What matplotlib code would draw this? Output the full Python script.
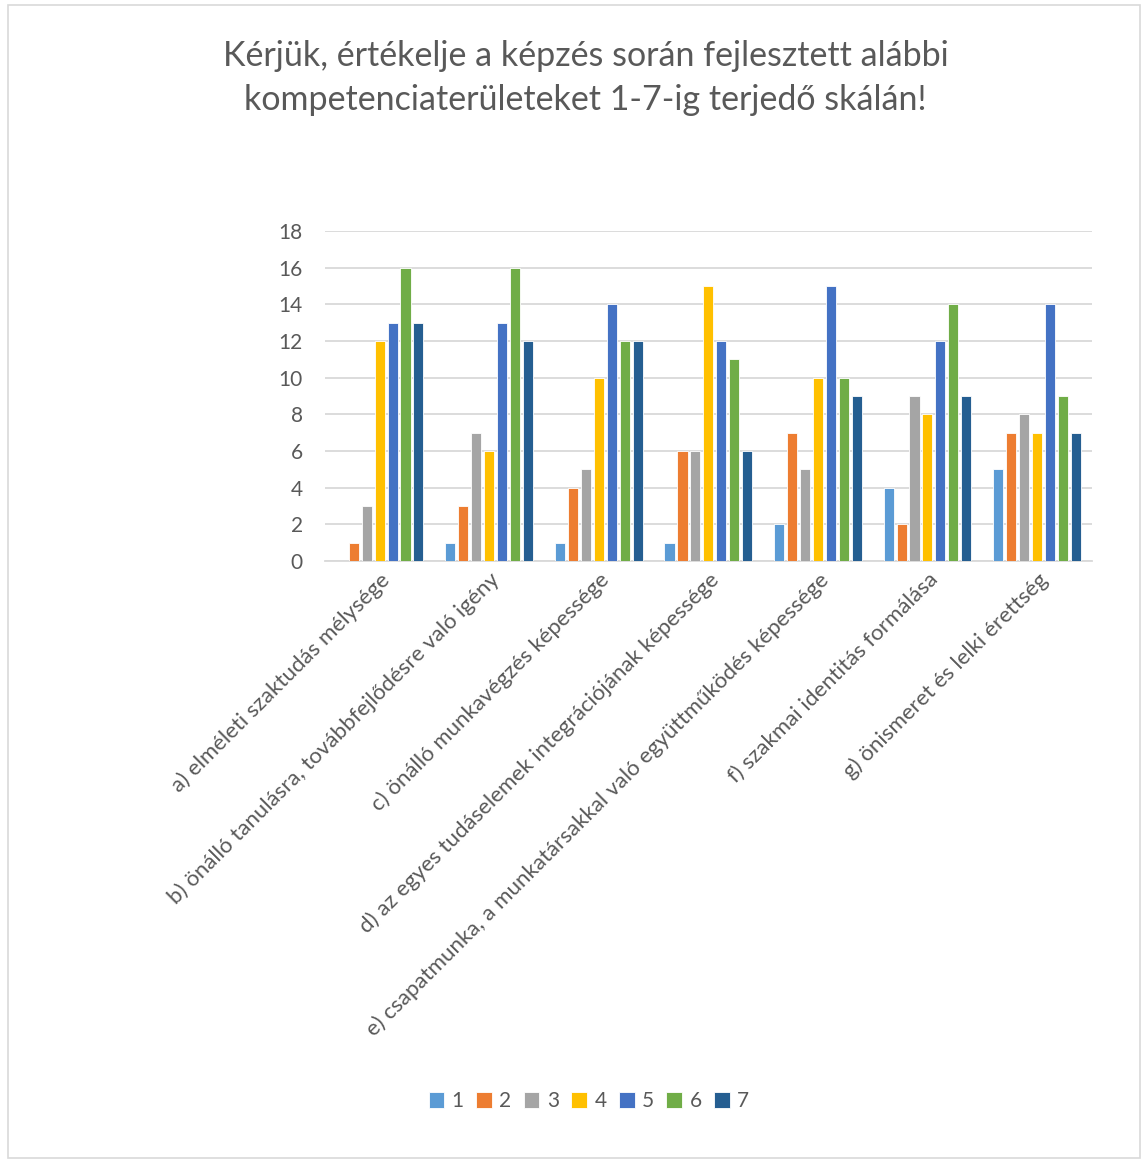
import matplotlib
matplotlib.use("Agg")
import matplotlib.pyplot as plt
import matplotlib.patches as mpatches
import numpy as np

plt.rcParams["font.family"] = ["Lato", "DejaVu Sans"]

# ─── Data ────────────────────────────────────────────────────────────────────
categories = [
    "a) elméleti szaktudás mélysége",
    "b) önálló tanulásra, továbbfejlődésre való igény",
    "c) önálló munkavégzés képessége",
    "d) az egyes tudáselemek integrációjának képessége",
    "e) csapatmunka, a munkatársakkal való együttműködés képessége",
    "f) szakmai identitás formálása",
    "g) önismeret és lelki érettség",
]
series_labels = ["1", "2", "3", "4", "5", "6", "7"]
s1 = [0, 1, 1, 1, 2, 4, 5]
s2 = [1, 3, 4, 6, 7, 2, 7]
s3 = [3, 7, 5, 6, 5, 9, 8]
s4 = [12, 6, 10, 15, 10, 8, 7]
s5 = [13, 13, 14, 12, 15, 12, 14]
s6 = [16, 16, 12, 11, 10, 14, 9]
s7 = [13, 12, 12, 6, 9, 9, 7]
series = [s1, s2, s3, s4, s5, s6, s7]
colors = ["#5B9BD5", "#ED7D31", "#A5A5A5", "#FFC000", "#4472C4", "#70AD47", "#255E91"]

TEXT = "#595959"
GRID = "#D9D9D9"

fig = plt.figure(figsize=(11.48, 11.63), dpi=100)
ax = fig.add_axes([0.283, 0.5176, 0.668, 0.2838])

x = np.arange(len(categories))
step = 0.118
width = 0.092
for i, (vals, col, lab) in enumerate(zip(series, colors, series_labels)):
    ax.bar(x + (i - 3) * step, vals, width=width, color=col, label=lab,
           edgecolor="white", linewidth=0.6, zorder=3)

ax.set_xlim(-0.5, len(categories) - 0.5)
ax.set_ylim(0, 18)
ax.set_yticks(np.arange(0, 19, 2))
ax.yaxis.grid(True, color=GRID, linewidth=1.3, zorder=0)
ax.tick_params(axis="y", length=0, labelsize=15, labelcolor=TEXT, pad=16)
ax.tick_params(axis="x", length=0, pad=6)
for side in ["top", "right", "left"]:
    ax.spines[side].set_visible(False)
ax.spines["bottom"].set_color(GRID)
ax.spines["bottom"].set_linewidth(1.3)

ax.set_xticks(x)
ax.set_xticklabels(categories, rotation=45, ha="right", rotation_mode="anchor",
                   fontsize=16, color=TEXT)

fig.text(0.51, 0.933, "Kérjük, értékelje a képzés során fejlesztett alábbi\n"
         "kompetenciaterületeket 1-7-ig terjedő skálán!",
         ha="center", va="center", fontsize=24.5, color=TEXT, linespacing=1.47)

leg = fig.legend(loc="center", bbox_to_anchor=(0.513, 0.053), ncol=7, frameon=False,
                 fontsize=15, handlelength=0.75, handleheight=0.75,
                 handletextpad=0.35, columnspacing=0.6)
for t in leg.get_texts():
    t.set_color(TEXT)

# Chart border
fig.patches.append(mpatches.Rectangle((0.007, 0.004), 0.986, 0.992, transform=fig.transFigure,
                                      fill=False, edgecolor=GRID, linewidth=1.2))

fig.savefig("out.png", dpi=100)
